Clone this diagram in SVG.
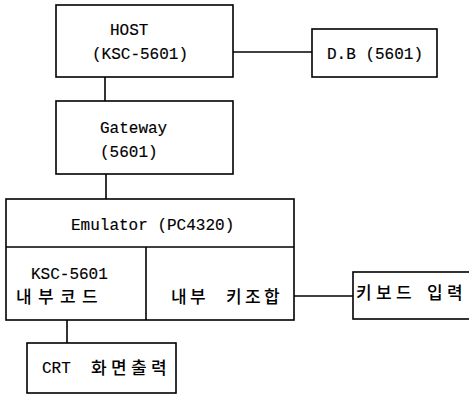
<svg xmlns="http://www.w3.org/2000/svg" width="469" height="395" viewBox="0 0 469 395">
<style>
.box{fill:#fff;stroke:#000;stroke-width:1.6}
.ln{stroke:#000;stroke-width:1.6;fill:none}
.t{font-family:"Liberation Mono","DejaVu Sans Mono",monospace;font-size:16px;fill:#000;stroke:#000;stroke-width:0.15}
.k{font-family:"Noto Sans CJK KR","Noto Sans",sans-serif;font-size:17px;font-weight:500;fill:#000}
</style>
<rect width="469" height="395" fill="#fff"/>
<g id="connectors">
<line class="ln" x1="233" y1="52" x2="312" y2="52"/>
<line class="ln" x1="105" y1="77" x2="105" y2="101"/>
<line class="ln" x1="106" y1="174" x2="106" y2="199"/>
<line class="ln" x1="294" y1="296" x2="353" y2="296"/>
<line class="ln" x1="67" y1="320" x2="67" y2="343"/>
</g>
<g id="host">
<rect class="box" x="56" y="5" width="177" height="72"/>
<text class="t" x="110" y="35">HOST</text>
<text class="t" x="92" y="59">(KSC-5601)</text>
</g>
<g id="db">
<rect class="box" x="312" y="29" width="125" height="48"/>
<text class="t" x="327" y="59">D.B (5601)</text>
</g>
<g id="gateway">
<rect class="box" x="56" y="101" width="177" height="73"/>
<text class="t" x="100" y="133">Gateway</text>
<text class="t" x="100" y="157">(5601)</text>
</g>
<g id="emulator">
<rect class="box" x="6" y="199" width="288" height="121"/>
<line class="ln" x1="6" y1="247" x2="294" y2="247"/>
<line class="ln" x1="146" y1="247" x2="146" y2="320"/>
<text class="t" x="71" y="230">Emulator (PC4320)</text>
<text class="t" x="31" y="279">KSC-5601</text>
<text class="k" x="16 38 60 82" y="303">내부코드</text>
<text class="k" x="171 190 226 245 264" y="303">내부키조합</text>
</g>
<g id="keyboard">
<rect class="box" x="353" y="272" width="130" height="47"/>
<text class="k" x="356 376 396 427 447" y="299">키보드입력</text>
</g>
<g id="crt">
<rect class="box" x="27" y="343" width="149" height="50"/>
<text class="t" x="42" y="373">CRT</text>
<text class="k" x="91 111 131 151" y="374">화면출력</text>
</g>
</svg>
